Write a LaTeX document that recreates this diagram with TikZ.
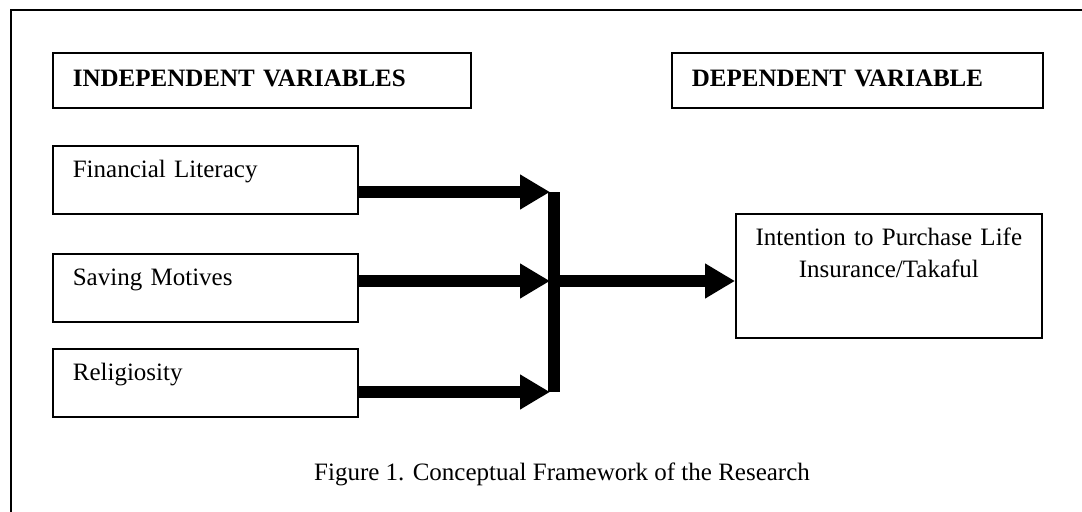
\documentclass[tikz,border=0pt]{standalone}
\usepackage{fontspec}
\setmainfont{Liberation Serif}
\usetikzlibrary{arrows.meta,positioning,calc}

\tikzset{
  varbox/.style={draw, line width=0.8pt, anchor=north west, inner xsep=9.6pt, inner ysep=0pt,
    text width=127.2pt, align=left, text height=15.36pt, text depth=17.28pt},
  headbox/.style={draw, line width=0.8pt, anchor=north west, inner xsep=9.6pt, inner ysep=0pt,
    align=left, font=\fontsize{12}{15}\selectfont\bfseries, text height=16.32pt, text depth=10.08pt},
  flow/.style={line width=5.3pt, -{Triangle[length=14.4pt, width=15.84pt]}},
}

\begin{document}
\begin{tikzpicture}[x=0.48pt, y=-0.48pt, font=\fontsize{12}{15}\selectfont]
  \useasboundingbox (0,0) rectangle (1082,512);

  % Frame
  \draw[line width=0.8pt] (11,512) -- (11,10) -- (1082,10);

  % Headers
  \node[headbox, text width=181.44pt] (ivhead) at (52,52) {INDEPENDENT VARIABLES};
  \node[headbox, text width=158.88pt] (dvhead) at (671,52) {DEPENDENT VARIABLE};

  % Independent variables
  \node[varbox] (fin) at (52,145) {Financial Literacy};
  \node[varbox] (sav) at (52,253) {Saving Motives};
  \node[varbox] (rel) at (52,348) {Religiosity};

  % Dependent variable
  \node[draw, line width=0.8pt, anchor=north west, inner sep=0pt, text width=146.88pt, align=center,
    text height=15.36pt, text depth=44.16pt] (dv) at (735,213)
    {Intention to Purchase Life\\ Insurance/Takaful};

  % Junction
  \coordinate (tip1) at (550,192);
  \coordinate (tip2) at (550,281);
  \coordinate (tip3) at (550,392);
  \coordinate (jtop) at (554,192);
  \coordinate (jmid) at (554,281);
  \coordinate (jbot) at (554,392);

  \draw[flow] (tip1 -| fin.east) -- (tip1);
  \draw[flow] (tip2 -| sav.east) -- (tip2);
  \draw[flow] (tip3 -| rel.east) -- (tip3);
  \draw[line width=5.76pt] (jtop) -- (jbot);
  \draw[flow] (jmid) -- (jmid -| dv.west);

  % Caption
  \node[anchor=base] (cap) at (562,480) {Figure 1. Conceptual Framework of the Research};
\end{tikzpicture}
\end{document}
